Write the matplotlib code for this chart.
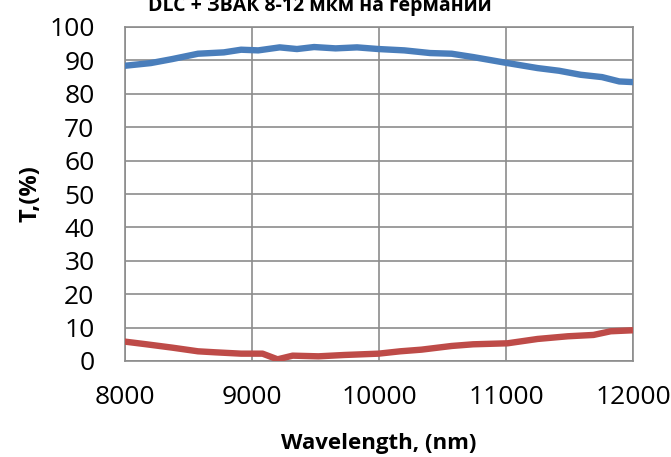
import matplotlib
matplotlib.use("Agg")
import matplotlib.pyplot as plt

# transmission of DLC + AR coating on germanium
wl_blue = [8000, 8203, 8372, 8575, 8778, 8914, 9049, 9218, 9354, 9489, 9658,
           9827, 9997, 10200, 10403, 10572, 10741, 11012, 11249, 11418, 11587,
           11756, 11892, 12000]
t_blue = [88.4, 89.2, 90.4, 92.0, 92.4, 93.2, 93.0, 93.9, 93.4, 94.0, 93.6,
          93.9, 93.4, 93.0, 92.2, 92.0, 91.0, 89.2, 87.7, 86.9, 85.7,
          85.0, 83.7, 83.5]

wl_red = [8000, 8169, 8372, 8575, 8711, 8914, 9083, 9201, 9320, 9523, 9726,
          9997, 10166, 10335, 10572, 10741, 11012, 11249, 11486, 11689, 11824,
          12000]
t_red = [5.8, 5.0, 4.0, 2.9, 2.6, 2.2, 2.2, 0.5, 1.6, 1.4, 1.8,
         2.2, 2.9, 3.4, 4.5, 5.0, 5.3, 6.6, 7.4, 7.8, 8.9,
         9.2]

plt.rcParams['font.family'] = ['Open Sans', 'DejaVu Sans']

fig = plt.figure(figsize=(6.71, 4.57), dpi=100)
ax = fig.add_axes([125 / 671, 96 / 457, 508 / 671, 334 / 457])

ax.plot(wl_blue, t_blue, color='#4a7ebb', lw=4.6, zorder=3)
ax.plot(wl_red, t_red, color='#be4b48', lw=4.6, zorder=3)

ax.set_xlim(8000, 12000)
ax.set_ylim(0, 100)
ax.set_xticks([8000, 9000, 10000, 11000, 12000])
ax.set_yticks(range(0, 101, 10))
ax.grid(True, color='#8c8c8c', lw=1.2)
ax.set_axisbelow(True)
for s in ax.spines.values():
    s.set_color('#8c8c8c')
    s.set_linewidth(1.2)
ax.tick_params(length=0, labelsize=19)
ax.tick_params(axis='x', pad=17)
ax.tick_params(axis='y', pad=22)

ax.set_xlabel('Wavelength, (nm)', fontsize=16, fontweight='bold', labelpad=17)
ax.set_ylabel('T,(%)', fontsize=17, fontweight='bold', labelpad=5)

fig.text(320 / 671, 1 - 6 / 457, 'DLC + ЗВАК 8-12 мкм на германий',
         ha='center', va='center', fontsize=14, fontweight='bold')

fig.savefig('out.png', dpi=100)
